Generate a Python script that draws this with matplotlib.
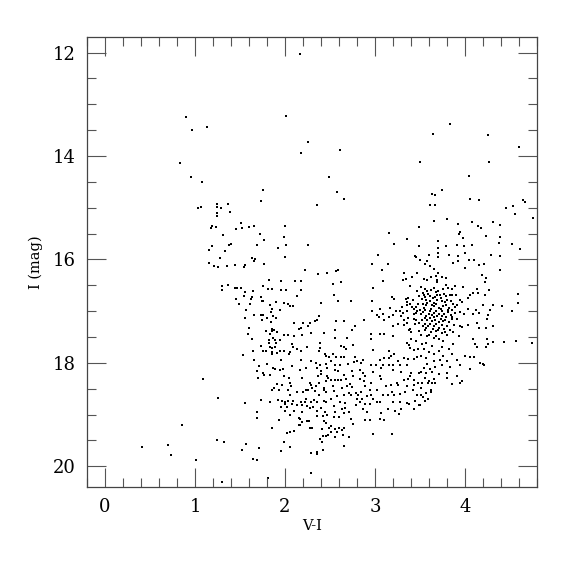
import matplotlib
matplotlib.use("Agg")
import matplotlib.pyplot as plt
from matplotlib.ticker import MultipleLocator
import numpy as np

# (V-I, I) pairs, grouped by area of the diagram
stars_bright = [
    (2.17, 12.02),
    (0.90, 13.24), (0.97, 13.50), (1.13, 13.44), (2.01, 13.23), (2.25, 13.73), (2.18, 13.95),
    (0.83, 14.13), (0.96, 14.41), (1.08, 14.50), (1.75, 14.66), (1.73, 14.88), (1.03, 15.00),
    (1.07, 14.99), (1.24, 14.93), (1.24, 14.99), (1.29, 15.00), (1.37, 14.93), (1.39, 15.08),
    (1.24, 15.11), (1.24, 15.17), (1.19, 15.35), (1.18, 15.40), (1.23, 15.37), (1.31, 15.52),
    (1.45, 15.41), (1.51, 15.29), (1.52, 15.39), (1.60, 15.37), (1.66, 15.35), (2.00, 15.35),
    (1.72, 15.51), (1.77, 15.62), (1.99, 15.57), (2.25, 15.73), (2.01, 15.73), (1.92, 15.77),
    (1.69, 15.73), (1.38, 15.73), (1.40, 15.71), (1.19, 15.75), (1.16, 15.82), (1.33, 15.84),
    (1.28, 15.98), (1.16, 16.07), (1.21, 16.13), (1.25, 16.14), (1.36, 16.13), (1.44, 16.10),
    (1.54, 16.14), (1.56, 16.10), (1.63, 15.97), (1.65, 16.04), (1.67, 16.00), (1.77, 16.09),
    (2.00, 15.95), (2.22, 16.21), (1.30, 16.51), (1.30, 16.60), (1.37, 16.49), (1.44, 16.55),
    (1.47, 16.55), (1.46, 16.76), (1.82, 16.40), (1.96, 16.41), (2.11, 16.42), (2.18, 16.42),
]

stars_blue_faint = [
    (1.09, 18.31), (1.25, 18.67), (0.86, 19.20), (0.41, 19.63), (0.70, 19.59), (0.73, 19.78),
    (1.01, 19.88), (1.24, 19.49), (1.32, 19.53), (1.30, 20.31), (1.49, 16.86), (1.81, 20.23),
    (2.29, 20.13),
]

stars_mid_upper = [
    (1.56, 16.63), (1.51, 16.55), (1.64, 16.61), (1.54, 16.70), (1.76, 16.52), (1.81, 16.58),
    (1.86, 16.57), (1.95, 16.60), (2.01, 16.59), (2.18, 16.60), (2.13, 16.71), (1.63, 16.73),
    (1.62, 16.77), (1.73, 16.73), (1.74, 16.80), (1.76, 16.80), (1.61, 16.87), (1.83, 16.88),
    (1.90, 16.82), (1.99, 16.84), (2.03, 16.87), (2.05, 16.91), (2.09, 16.91), (2.40, 16.84),
    (1.57, 16.97), (1.94, 16.97), (1.86, 16.95), (1.84, 17.02), (1.66, 17.07), (1.56, 17.13),
    (1.73, 17.08), (1.76, 17.08), (1.80, 17.13), (1.87, 17.10), (1.90, 17.13), (2.38, 17.10),
    (2.35, 17.18), (2.33, 17.20), (1.74, 17.17), (1.84, 17.21), (2.10, 17.22), (2.20, 17.22),
    (2.26, 17.28), (2.18, 17.33), (2.15, 17.35), (2.28, 17.23), (1.60, 17.33), (1.79, 17.39),
    (1.85, 17.34), (1.86, 17.39), (1.88, 17.37), (1.59, 17.44), (1.83, 17.44), (1.91, 17.41),
    (1.99, 17.47), (2.03, 17.47), (2.10, 17.49), (2.19, 17.47), (2.29, 17.42), (2.43, 17.42),
    (1.63, 17.54), (1.82, 17.55), (1.87, 17.52), (1.89, 17.55), (1.94, 17.55), (1.73, 17.68),
    (1.82, 17.61), (1.83, 17.70), (1.86, 17.72), (1.89, 17.69), (1.90, 17.61), (2.08, 17.63),
    (2.09, 17.69), (2.13, 17.73), (2.24, 17.69), (2.39, 17.61), (2.39, 17.72), (1.53, 17.85),
    (1.64, 17.77), (1.75, 17.78), (1.79, 17.77), (1.85, 17.83), (1.86, 17.79), (1.91, 17.81),
    (1.94, 17.78), (1.99, 17.78), (2.04, 17.83), (2.06, 17.79), (2.18, 17.78), (2.38, 17.78),
    (2.44, 17.83), (2.46, 17.86), (2.49, 17.89), (1.66, 17.94), (1.96, 17.94), (2.18, 17.95),
    (2.29, 17.96), (2.34, 18.00), (2.39, 18.05), (2.45, 18.03), (1.80, 18.03), (1.71, 18.07),
    (1.87, 18.10), (1.89, 18.12), (1.94, 18.14), (1.98, 18.12), (2.08, 18.07), (2.23, 18.09),
    (2.36, 18.09), (2.40, 18.16), (2.47, 18.09), (1.69, 18.16), (1.75, 18.20), (1.77, 18.23),
    (1.83, 18.23), (2.17, 18.14), (2.19, 18.29), (2.37, 18.25), (2.40, 18.22), (2.47, 18.25),
    (1.70, 18.29), (1.99, 18.25), (2.04, 18.29), (2.48, 18.29), (2.06, 18.38), (2.28, 18.38),
    (2.29, 18.42), (2.38, 18.38), (2.46, 18.35), (1.91, 18.40), (1.97, 18.42), (2.07, 18.44),
    (1.88, 18.48), (2.23, 18.52), (2.30, 18.48), (2.34, 18.45), (2.43, 18.48),
]

stars_mid_lower = [
    (1.85, 18.52), (1.93, 18.52), (2.03, 18.53), (2.05, 18.62), (2.13, 18.56), (2.20, 18.56),
    (2.25, 18.52), (2.33, 18.55), (2.38, 18.62), (2.43, 18.52), (2.46, 18.56), (1.55, 18.78),
    (1.73, 18.71), (1.83, 18.75), (1.92, 18.71), (1.97, 18.73), (2.00, 18.75), (2.03, 18.74),
    (2.09, 18.73), (2.08, 18.80), (2.00, 18.80), (1.95, 18.85), (2.02, 18.85), (2.13, 18.82),
    (2.18, 18.76), (2.22, 18.76), (2.23, 18.70), (2.29, 18.75), (2.32, 18.72), (2.36, 18.75),
    (2.43, 18.73), (2.45, 18.76), (2.19, 18.82), (2.24, 18.84), (2.28, 18.87), (2.31, 18.85),
    (2.40, 18.87), (1.69, 18.95), (2.00, 18.93), (2.10, 18.94), (2.19, 18.95), (2.36, 18.93),
    (2.44, 18.95), (1.69, 19.07), (2.06, 19.00), (2.15, 19.06), (2.17, 19.09), (2.36, 19.02),
    (2.42, 19.02), (2.47, 19.00), (1.93, 19.11), (2.24, 19.12), (2.27, 19.13), (2.43, 19.13),
    (2.46, 19.16), (2.19, 19.15), (2.15, 19.21), (2.17, 19.21), (1.86, 19.25), (2.28, 19.26),
    (2.30, 19.26), (2.41, 19.27), (2.49, 19.26), (2.10, 19.31), (2.06, 19.34), (2.02, 19.35),
    (2.42, 19.42), (2.45, 19.42), (2.48, 19.39), (2.39, 19.47), (1.99, 19.53), (2.41, 19.53),
    (1.57, 19.57), (1.71, 19.64), (2.06, 19.62), (1.52, 19.69), (1.96, 19.70), (2.36, 19.73),
    (2.29, 19.74), (2.36, 19.77), (2.42, 19.69), (1.64, 19.85), (1.69, 19.87),
]

stars_red_upper = [
    (2.98, 16.56), (2.54, 16.68), (2.59, 16.80), (2.73, 16.80), (2.97, 16.80), (3.19, 16.72),
    (3.21, 16.76), (3.39, 16.52), (3.34, 16.77), (3.37, 16.75), (3.42, 16.79), (3.39, 16.86),
    (3.35, 16.89), (3.41, 16.92), (3.43, 16.95), (3.48, 16.86), (3.47, 16.99), (2.97, 16.99),
    (3.06, 16.95), (3.17, 16.94), (3.23, 17.00), (3.28, 16.99), (3.31, 17.03), (3.35, 17.00),
    (3.09, 17.05), (3.02, 17.08), (3.04, 17.11), (3.15, 17.12), (3.20, 17.08), (2.88, 17.17),
    (3.10, 17.17), (3.32, 17.17), (3.37, 17.13), (3.43, 17.15), (3.46, 17.18), (2.57, 17.20),
    (2.65, 17.20), (3.20, 17.28), (3.26, 17.24), (3.32, 17.26), (3.39, 17.34), (3.40, 17.41),
    (3.38, 17.37), (2.78, 17.29), (2.74, 17.36), (2.55, 17.37), (2.96, 17.44), (3.05, 17.44),
    (3.10, 17.44), (3.20, 17.48), (2.55, 17.52), (2.69, 17.52), (2.96, 17.54), (3.40, 17.54),
    (3.46, 17.57), (3.35, 17.61), (2.62, 17.67), (2.76, 17.65), (3.38, 17.65), (2.65, 17.70),
    (2.68, 17.73), (2.98, 17.76), (3.39, 17.72), (3.43, 17.76), (3.48, 17.74), (2.53, 17.83),
    (3.16, 17.78), (3.18, 17.87), (3.21, 17.83), (2.57, 17.89), (2.62, 17.89), (2.65, 17.89),
    (2.78, 17.89), (2.80, 17.96), (2.87, 17.94), (3.06, 17.95), (3.10, 17.91), (3.16, 17.91),
    (3.25, 17.96), (3.32, 17.91), (3.37, 17.92), (3.43, 17.92), (3.47, 17.89), (2.51, 17.96),
    (2.55, 18.05), (2.61, 18.04), (2.70, 18.03), (2.77, 17.99), (2.84, 18.00), (2.95, 18.05),
    (3.01, 18.05), (3.07, 18.09), (3.09, 18.05), (3.16, 18.04), (3.20, 18.04), (3.28, 18.05),
    (3.20, 18.14), (3.29, 18.17), (3.36, 18.05), (3.40, 18.20), (3.49, 18.20), (2.55, 18.13),
    (2.59, 18.16), (2.74, 18.16), (2.83, 18.14), (2.87, 18.20), (2.98, 18.17), (2.89, 18.25),
    (3.05, 18.25), (3.07, 18.31), (2.65, 18.23), (2.76, 18.25), (2.83, 18.31), (2.51, 18.33),
    (2.56, 18.33), (2.59, 18.33), (2.62, 18.34), (2.68, 18.32), (2.69, 18.44), (2.72, 18.41),
    (2.88, 18.36), (2.89, 18.44), (2.95, 18.39), (3.18, 18.42), (3.24, 18.38), (3.26, 18.42),
    (3.32, 18.34), (3.37, 18.31), (3.39, 18.25), (3.43, 18.33), (3.43, 18.43), (3.48, 18.38),
    (3.35, 18.44), (2.53, 18.44), (2.63, 18.48), (2.74, 18.46), (3.12, 18.44),
]

stars_red_lower = [
    (2.54, 18.55), (2.58, 18.64), (2.66, 18.62), (2.71, 18.58), (2.73, 18.63), (2.79, 18.59),
    (2.81, 18.63), (2.84, 18.56), (2.86, 18.69), (2.83, 18.76), (2.80, 18.69), (2.79, 18.82),
    (2.89, 18.79), (2.91, 18.64), (2.96, 18.63), (2.94, 18.80), (2.98, 18.69), (3.02, 18.76),
    (3.05, 18.76), (3.09, 18.63), (3.14, 18.62), (3.19, 18.56), (3.21, 18.63), (3.28, 18.60),
    (3.33, 18.56), (3.42, 18.52), (3.47, 18.63), (3.20, 18.76), (3.28, 18.76), (3.35, 18.77),
    (3.44, 18.73), (3.49, 18.82), (3.02, 18.52), (2.94, 18.52), (2.51, 18.69), (2.61, 18.76),
    (2.67, 18.77), (2.54, 18.84), (2.63, 18.89), (2.67, 18.87), (2.71, 18.95), (2.55, 18.95),
    (2.60, 19.05), (2.54, 19.05), (2.65, 18.96), (2.73, 19.08), (2.76, 19.18), (2.87, 18.89),
    (2.91, 18.95), (2.89, 19.11), (2.94, 19.11), (3.07, 18.96), (3.06, 19.08), (3.10, 19.11),
    (3.14, 18.90), (3.22, 18.93), (3.27, 18.99), (3.29, 18.89), (3.38, 18.80), (3.43, 18.89),
    (2.51, 19.22), (2.56, 19.27), (2.60, 19.26), (2.63, 19.29), (2.66, 19.26), (2.51, 19.33),
    (2.58, 19.34), (2.64, 19.40), (2.56, 19.44), (2.71, 19.43), (2.98, 19.37), (3.19, 19.38),
    (2.66, 19.61),
    (3.50, 18.81), (3.56, 18.73), (3.51, 18.63), (3.57, 18.58), (3.62, 18.52), (3.62, 18.57),
    (3.59, 18.69), (3.53, 18.66),
]

stars_giants = [
    (3.51, 16.53), (3.55, 16.58), (3.58, 16.62), (3.62, 16.60), (3.68, 16.63), (3.66, 16.56),
    (3.76, 16.58), (3.81, 16.55), (3.86, 16.58), (3.89, 16.52), (3.98, 16.53), (4.13, 16.58),
    (4.14, 16.64), (4.09, 16.64), (4.06, 16.69), (4.03, 16.75), (4.27, 16.60), (4.22, 16.69),
    (4.59, 16.66), (4.59, 16.84), (4.41, 16.90), (4.31, 16.88), (4.28, 16.98), (4.20, 16.89),
    (4.12, 16.97), (4.03, 16.95), (3.97, 16.82), (3.94, 16.78), (3.90, 16.69), (3.86, 16.69),
    (3.79, 16.71), (3.72, 16.69), (3.69, 16.68), (3.61, 16.71), (3.54, 16.69), (3.52, 16.76),
    (3.57, 16.78), (3.61, 16.81), (3.65, 16.84), (3.69, 16.78), (3.74, 16.80), (3.78, 16.82),
    (3.84, 16.80), (3.87, 16.86), (3.91, 16.89), (3.53, 16.86), (3.57, 16.89), (3.63, 16.89),
    (3.66, 16.91), (3.71, 16.93), (3.76, 16.90), (3.82, 16.93), (3.86, 16.98), (4.52, 16.99),
    (4.26, 17.08), (4.24, 17.15), (4.16, 17.03), (4.09, 17.06), (3.99, 17.06), (3.94, 17.02),
    (3.89, 17.04), (3.81, 17.02), (3.74, 17.00), (3.68, 16.99), (3.61, 17.00), (3.55, 16.98),
    (3.51, 17.06), (3.57, 17.10), (3.63, 17.08), (3.69, 17.10), (3.74, 17.10), (3.79, 17.12),
    (3.86, 17.11), (3.91, 17.15), (3.52, 17.17), (3.58, 17.17), (3.63, 17.19), (3.67, 17.17),
    (3.71, 17.21), (3.76, 17.20), (3.82, 17.21), (3.88, 17.26), (3.94, 17.28), (3.97, 17.30),
    (4.03, 17.26), (4.13, 17.22), (4.15, 17.33), (4.23, 17.33), (4.31, 17.28), (3.53, 17.28),
    (3.59, 17.29), (3.65, 17.28), (3.71, 17.32), (3.77, 17.34), (3.83, 17.37), (3.55, 17.37),
    (3.62, 17.41), (3.68, 17.39), (3.74, 17.43), (3.80, 17.47), (3.87, 17.41), (3.51, 17.46),
    (3.58, 17.48), (3.65, 17.51), (3.71, 17.54), (3.75, 17.57), (3.93, 17.48), (4.09, 17.54),
    (4.24, 17.54), (4.31, 17.60), (4.43, 17.59), (4.57, 17.57), (4.74, 17.61), (4.11, 17.64),
    (4.23, 17.70), (4.26, 17.63), (4.13, 17.70), (3.87, 17.64), (3.82, 17.73), (3.74, 17.69),
    (3.71, 17.77), (3.63, 17.67), (3.57, 17.61), (3.52, 17.64), (3.54, 17.73), (3.60, 17.79),
    (3.65, 17.82), (3.76, 17.86), (3.86, 17.82), (4.00, 17.86), (4.06, 17.89), (4.10, 17.89),
    (3.51, 17.86), (3.57, 17.90), (3.72, 17.95), (3.80, 17.96), (3.91, 17.94), (4.17, 18.00),
    (4.20, 18.03), (4.21, 18.05), (3.65, 17.96), (3.58, 18.03), (3.54, 18.09), (3.61, 18.11),
    (3.67, 18.08), (3.74, 18.05), (3.83, 18.08), (3.94, 18.05), (4.06, 18.12), (3.51, 18.18),
    (3.57, 18.20), (3.63, 18.17), (3.71, 18.22), (3.80, 18.20), (3.55, 18.29), (3.60, 18.35),
    (3.66, 18.31), (3.80, 18.29), (3.91, 18.26), (3.52, 18.39), (3.59, 18.39), (3.63, 18.39),
    (3.67, 18.38), (3.86, 18.40), (3.94, 18.38), (3.97, 18.36), (3.51, 18.48),
]

# the red clump is nearly solid in the picture; extra stars estimated there
stars_clump = [
    (3.47, 16.62), (3.49, 16.70), (3.53, 16.64), (3.56, 16.73), (3.59, 16.66), (3.64, 16.74),
    (3.67, 16.72), (3.70, 16.62), (3.73, 16.75), (3.77, 16.66), (3.80, 16.78), (3.83, 16.69),
    (3.58, 16.84), (3.62, 16.95), (3.68, 16.86), (3.73, 16.96), (3.79, 16.88), (3.81, 16.97),
    (3.89, 16.92), (3.54, 16.93), (3.50, 16.97), (3.46, 17.03), (3.53, 17.01), (3.60, 17.05),
    (3.66, 17.03), (3.71, 17.06), (3.77, 17.05), (3.84, 17.07), (3.55, 17.13), (3.61, 17.14),
    (3.65, 17.12), (3.73, 17.15), (3.78, 17.17), (3.85, 17.16), (3.49, 17.22), (3.56, 17.24),
    (3.61, 17.24), (3.68, 17.25), (3.74, 17.26), (3.80, 17.28), (3.57, 17.33), (3.64, 17.35),
    (3.70, 17.37), (3.78, 17.40), (3.49, 17.38), (3.60, 17.46), (3.68, 17.48), (3.45, 16.92),
    (3.43, 17.05), (3.36, 16.82), (3.30, 16.92), (3.44, 17.25), (3.36, 17.22), (3.29, 17.10),
]

stars_red_bright = [
    (2.61, 13.89), (3.83, 13.39), (3.64, 13.57), (4.26, 13.59), (4.60, 13.83), (3.50, 14.11),
    (4.27, 14.11), (2.49, 14.41), (4.04, 14.39), (2.58, 14.69), (2.65, 14.84), (2.36, 14.94),
    (3.74, 14.65), (3.63, 14.73), (3.67, 14.75), (3.61, 14.95), (3.67, 14.95), (4.06, 14.83),
    (4.16, 14.86), (4.64, 14.85), (4.67, 14.89), (4.53, 14.96), (4.45, 15.00), (4.55, 15.12),
    (4.76, 15.20), (3.49, 15.38), (3.66, 15.26), (3.80, 15.22), (3.92, 15.32), (4.08, 15.27),
    (4.14, 15.36), (4.18, 15.40), (4.31, 15.27), (4.39, 15.33), (3.15, 15.48), (3.94, 15.47),
    (3.93, 15.51), (3.98, 15.58), (4.23, 15.54), (4.39, 15.57), (3.21, 15.71), (3.35, 15.61),
    (3.49, 15.75), (3.70, 15.64), (3.70, 15.78), (3.79, 15.74), (3.91, 15.73), (3.99, 15.75),
    (4.08, 15.73), (4.38, 15.69), (4.52, 15.71), (4.61, 15.80), (3.03, 15.91), (3.44, 15.93),
    (3.45, 15.96), (3.60, 15.91), (3.70, 15.88), (3.70, 15.96), (3.82, 15.92), (3.92, 15.93),
    (4.00, 15.87), (4.29, 15.92), (4.39, 15.93), (2.97, 16.09), (3.14, 16.09), (3.50, 16.02),
    (3.58, 16.04), (3.56, 16.09), (3.61, 16.13), (3.87, 16.07), (3.92, 16.04), (4.04, 16.02),
    (4.10, 16.02), (4.16, 16.11), (4.21, 16.08), (3.08, 16.20), (3.70, 16.26), (3.68, 16.33),
    (3.69, 16.40), (3.62, 16.34), (3.66, 16.18), (3.74, 16.34), (3.79, 16.35), (4.00, 16.16),
    (4.19, 16.30), (4.23, 16.35), (4.39, 16.21), (3.32, 16.27), (3.31, 16.40), (3.47, 16.26),
    (2.37, 16.29), (2.47, 16.27), (2.57, 16.22), (2.59, 16.21), (2.62, 16.44), (2.53, 16.48),
    (3.09, 16.42), (3.34, 16.37), (3.41, 16.34), (3.54, 16.38), (3.58, 16.39), (3.69, 16.44),
    (3.79, 16.49), (4.22, 16.44),
]

groups = [stars_bright, stars_blue_faint, stars_mid_upper, stars_mid_lower,
          stars_red_upper, stars_red_lower, stars_giants, stars_clump, stars_red_bright]
pts = np.array([p for g in groups for p in g])
vi = pts[:, 0]
imag = pts[:, 1]

plt.rcParams['font.family'] = ['DejaVu Serif']

fig = plt.figure(figsize=(5.75, 5.75), dpi=100)
ax = fig.add_axes([87 / 575, 1 - 487 / 575, 450 / 575, 450 / 575])

ax.scatter(vi, imag, s=2.6, c='black', marker='s', linewidths=0)

ax.set_xlim(-0.2, 4.8)
ax.set_ylim(20.4, 11.7)

ax.xaxis.set_major_locator(MultipleLocator(1))
ax.xaxis.set_minor_locator(MultipleLocator(0.2))
ax.yaxis.set_major_locator(MultipleLocator(2))
ax.yaxis.set_minor_locator(MultipleLocator(0.5))

ax.tick_params(which='both', direction='in', top=True, right=True, color='#555555', width=0.8)
ax.tick_params(which='major', length=13.5, labelsize=13, pad=8)
ax.tick_params(which='minor', length=6.8)
for sp in ax.spines.values():
    sp.set_color('#444444')
    sp.set_linewidth(0.9)

ax.set_xlabel('V-I', fontsize=10.5, labelpad=2)
ax.set_ylabel('I (mag)', fontsize=10.5, labelpad=7)

fig.savefig('out.png', dpi=100)
